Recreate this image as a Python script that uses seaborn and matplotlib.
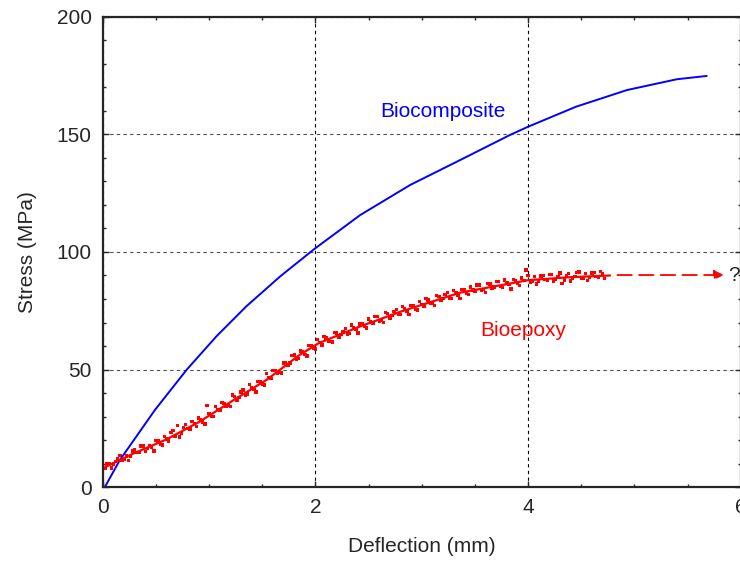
import numpy as np
import pandas as pd
import seaborn as sns
import matplotlib.pyplot as plt
from matplotlib.ticker import MultipleLocator

# Biocomposite curve
bio_x = [0, 0.02, 0.16, 0.49, 0.79, 1.07, 1.35, 1.67, 1.99, 2.42, 2.89, 3.36, 3.83, 4.0, 4.45, 4.93, 5.4, 5.68]
bio_y = [0, 0.1, 11.5, 32.8, 50, 64.2, 76.9, 89.7, 101.3, 115.7, 128.5, 139.1, 149.8, 153.3, 161.8, 168.9, 173.5, 174.9]

# Bioepoxy fitted line
epo_x = [0, 0.29, 0.6, 0.91, 1.23, 1.54, 1.85, 2.03, 2.4, 2.8, 3.36, 4.0, 4.4, 4.77]
epo_y = [8, 14.3, 20.3, 27.8, 37, 45.6, 56.2, 61.2, 68, 74.6, 82.7, 88, 89.3, 90]

# Bioepoxy measured points (two interleaved runs)
pts_x = [0.02, 0.06, 0.10, 0.14, 0.18, 0.22, 0.26, 0.30, 0.34, 0.38, 0.42, 0.46, 0.50, 0.54, 0.58,
         0.62, 0.66, 0.70, 0.74, 0.78, 0.82, 0.86, 0.90, 0.94, 0.98, 1.02, 1.06, 1.10, 1.14, 1.18,
         1.22, 1.26, 1.30, 1.34, 1.38, 1.42, 1.46, 1.50, 1.54, 1.58, 1.62, 1.66, 1.70, 1.74, 1.78,
         1.82, 1.86, 1.90, 1.94, 1.98, 2.02, 2.06, 2.10, 2.14, 2.18, 2.22, 2.26, 2.30, 2.34, 2.38,
         2.42, 2.46, 2.50, 2.54, 2.58, 2.62, 2.66, 2.70, 2.74, 2.78, 2.82, 2.86, 2.90, 2.94, 2.98,
         3.02, 3.06, 3.10, 3.14, 3.18, 3.22, 3.26, 3.30, 3.34, 3.38, 3.42, 3.46, 3.50, 3.54, 3.58,
         3.62, 3.66, 3.70, 3.74, 3.78, 3.82, 3.86, 3.90, 3.94, 3.98, 4.02, 4.06, 4.10, 4.14, 4.18,
         4.22, 4.26, 4.30, 4.34, 4.38, 4.42, 4.46, 4.50, 4.54, 4.58, 4.62, 4.66, 4.70]
pts_y = [7.8, 10.0, 9.8, 12.2, 11.5, 13.2, 13.0, 15.8, 14.6, 17.5, 16.3, 17.1, 19.8, 18.2, 21.5,
         19.6, 24.1, 26.3, 22.9, 26.5, 24.7, 27.0, 29.4, 27.6, 34.6, 30.1, 34.2, 32.5, 35.5, 34.7,
         39.2, 36.9, 40.4, 39.0, 43.6, 41.5, 44.8, 43.8, 48.4, 46.1, 49.5, 48.8, 52.8, 51.6, 56.0,
         54.3, 57.9, 56.5, 60.2, 59.0, 62.8, 60.5, 63.4, 61.9, 65.8, 63.7, 66.0, 65.1, 68.9, 66.9,
         69.3, 68.2, 71.5, 69.7, 72.6, 70.9, 74.2, 72.0, 74.8, 73.6, 76.9, 74.8, 77.3, 75.6, 78.9,
         77.0, 79.6, 78.2, 81.4, 79.3, 82.0, 80.4, 83.5, 81.5, 84.0, 82.4, 85.1, 83.2, 86.0, 84.1,
         86.6, 84.7, 87.5, 85.4, 88.1, 86.2, 88.4, 86.6, 89.0, 92.4, 87.2, 89.6, 87.6, 90.1, 87.9,
         90.5, 88.3, 91.0, 88.1, 90.8, 88.6, 91.2, 88.7, 90.9, 89.1, 91.3, 89.2, 90.6]
pts2_x = [0.04, 0.08, 0.12, 0.16, 0.20, 0.24, 0.28, 0.32, 0.36, 0.40, 0.44, 0.48, 0.52, 0.56, 0.60,
          0.64, 0.68, 0.72, 0.76, 0.80, 0.84, 0.88, 0.92, 0.96, 1.00, 1.04, 1.08, 1.12, 1.16, 1.20,
          1.24, 1.28, 1.32, 1.36, 1.40, 1.44, 1.48, 1.52, 1.56, 1.60, 1.64, 1.68, 1.72, 1.76, 1.80,
          1.84, 1.88, 1.92, 1.96, 2.00, 2.04, 2.08, 2.12, 2.16, 2.20, 2.24, 2.28, 2.32, 2.36, 2.40,
          2.44, 2.48, 2.52, 2.56, 2.60, 2.64, 2.68, 2.72, 2.76, 2.80, 2.84, 2.88, 2.92, 2.96, 3.00,
          3.04, 3.08, 3.12, 3.16, 3.20, 3.24, 3.28, 3.32, 3.36, 3.40, 3.44, 3.48, 3.52, 3.56, 3.60,
          3.64, 3.68, 3.72, 3.76, 3.80, 3.84, 3.88, 3.92, 3.96, 4.00, 4.04, 4.08, 4.12, 4.16, 4.20,
          4.24, 4.28, 4.32, 4.36, 4.40, 4.44, 4.48, 4.52, 4.56, 4.60, 4.64, 4.68, 4.72]
pts2_y = [9.8, 8.1, 10.8, 13.4, 11.6, 11.3, 15.4, 14.6, 17.4, 15.2, 17.6, 15.4, 19.6, 17.9, 20.5,
          23.3, 21.5, 21.3, 25.4, 24.8, 27.8, 25.8, 28.6, 26.8, 31.3, 30.0, 32.9, 35.9, 34.3, 34.3,
          38.6, 38.1, 41.3, 39.5, 42.3, 40.5, 44.8, 43.4, 46.5, 49.7, 48.3, 48.5, 53.1, 52.8, 56.2,
          54.7, 57.6, 55.8, 60.2, 58.8, 61.6, 64.1, 62.2, 61.7, 65.6, 64.8, 67.5, 65.3, 67.8, 65.6,
          69.6, 67.7, 70.2, 72.6, 70.6, 70.1, 73.9, 73.0, 75.6, 73.4, 75.7, 73.4, 77.2, 75.3, 77.7,
          80.1, 78.0, 77.3, 81.1, 80.1, 82.7, 80.3, 82.6, 80.3, 83.9, 81.8, 83.9, 86.0, 83.7, 82.8,
          86.3, 85.1, 87.4, 84.8, 86.8, 84.3, 87.9, 85.7, 87.9, 90.0, 87.4, 86.4, 89.7, 88.2, 90.3,
          87.6, 89.4, 86.6, 90.1, 87.7, 89.6, 91.5, 88.9, 87.8, 91.1, 89.5, 91.6, 88.8]

# extrapolation arrow
arrow_x = [4.84, 5.84]
arrow_y = [90.2, 90.2]

sns.set_style("ticks")
plt.rcParams['font.family'] = ['Liberation Sans', 'DejaVu Sans']

fig = plt.figure(figsize=(7.4, 5.65), dpi=100)
ax = fig.add_axes([0.139, 0.138, 0.862, 0.832])

sns.lineplot(x=bio_x, y=bio_y, color='blue', linewidth=1.4, ax=ax)
sns.lineplot(x=epo_x, y=epo_y, color='red', linewidth=1.6, ax=ax)
sns.scatterplot(x=pts_x, y=pts_y, color='red', s=6, marker='s', edgecolor='none', ax=ax)
sns.scatterplot(x=pts2_x, y=pts2_y, color='red', s=6, marker='s', edgecolor='none', ax=ax)

ax.annotate('', xy=(arrow_x[1], arrow_y[1]), xytext=(arrow_x[0], arrow_y[0]),
            arrowprops=dict(arrowstyle='-|>', color='red', lw=1.3, linestyle=(0, (8, 4)),
                            mutation_scale=14, shrinkA=0, shrinkB=0))
ax.text(5.88, 90.2, '?', fontsize=15, va='center', ha='left', clip_on=False)

ax.text(3.2, 159.6, 'Biocomposite', color='blue', fontsize=15, ha='center', va='center')
ax.text(3.95, 66.4, 'Bioepoxy', color='red', fontsize=15, ha='center', va='center')

ax.set_xlim(0, 6)
ax.set_ylim(0, 200)
ax.set_xticks([0, 2, 4, 6])
ax.set_yticks([0, 50, 100, 150, 200])
ax.xaxis.set_minor_locator(MultipleLocator(0.5))
ax.yaxis.set_minor_locator(MultipleLocator(10))
ax.tick_params(which='both', direction='in', top=True, right=True, labelsize=15, pad=8)
ax.tick_params(which='major', length=4, width=1)
ax.tick_params(which='minor', length=2.5, width=1)

ax.grid(axis='x', which='major', color='black', linestyle=(0, (3, 3)), linewidth=0.8)
ax.grid(axis='y', which='major', color='0.3', linestyle=(0, (3, 3)), linewidth=0.8)
for s in ax.spines.values():
    s.set_linewidth(1.6)

ax.set_xlabel('Deflection (mm)', fontsize=15, labelpad=14)
ax.set_ylabel('Stress (MPa)', fontsize=15, labelpad=14)

fig.savefig('out.png', dpi=100)
